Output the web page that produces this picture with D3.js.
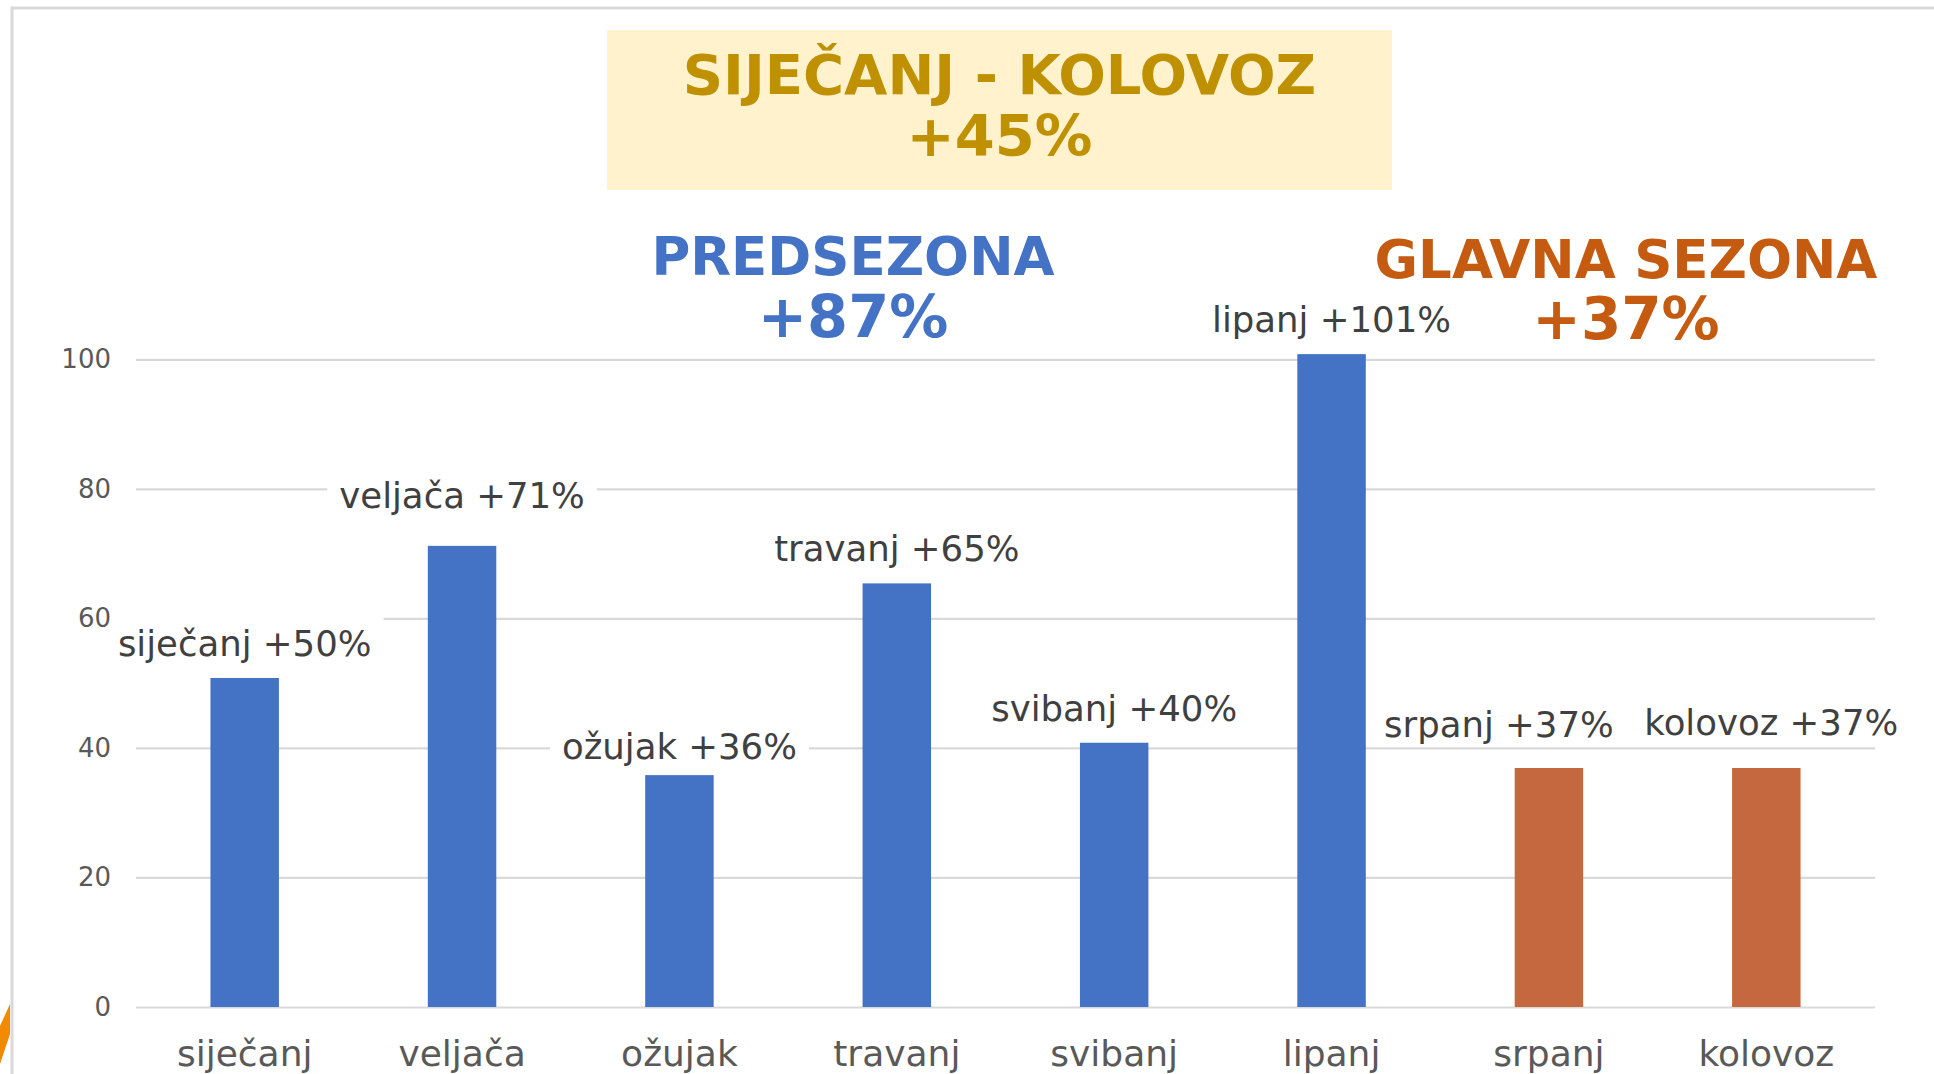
<!DOCTYPE html>
<html>
<head>
<meta charset="utf-8">
<script src="https://cdn.jsdelivr.net/npm/d3@7"></script>
<style>
  html, body { margin: 0; padding: 0; background: #fff; }
  svg { display: block; font-family: "DejaVu Sans", Verdana, sans-serif; }
</style>
</head>
<body>
<div id="chart"></div>
<script>
// Data
const months = ['siječanj', 'veljača', 'ožujak', 'travanj', 'svibanj', 'lipanj', 'srpanj', 'kolovoz'];
const values = [50.8, 71.2, 35.8, 65.4, 40.8, 100.8, 36.9, 36.9];
const growthLabels = ['+50%', '+71%', '+36%', '+65%', '+40%', '+101%', '+37%', '+37%'];
const seasons = ['pre', 'pre', 'pre', 'pre', 'pre', 'pre', 'main', 'main'];
const yTicks = [0, 20, 40, 60, 80, 100];
const titleLines = ['SIJEČANJ - KOLOVOZ', '+45%'];
const preSeasonLines = ['PREDSEZONA', '+87%'];
const mainSeasonLines = ['GLAVNA SEZONA', '+37%'];

// data labels were nudged by hand in the original
const labelLift = [22, 38, 16, 22, 22, 22, 31, 33];
const labelShift = [0, 0, 0, 0, 0, 0, -50, 5];

const width = 1934, height = 1074;
const colors = { pre: '#4472c4', main: '#c56840' };

const svg = d3.select('#chart').append('svg')
    .attr('width', width)
    .attr('height', height);

svg.append('rect').attr('width', width).attr('height', height).attr('fill', '#fff');

// slide frame + bit of decoration at the left edge
svg.append('path')
    .attr('d', `M12,${height} V8 H${width}`)
    .attr('fill', 'none')
    .attr('stroke', '#d9d9d9')
    .attr('stroke-width', 3);
svg.append('path')
    .attr('d', 'M10,1004 L10,1034 L0,1064 L0,1026 Z')
    .attr('fill', '#f28a00');

const x = d3.scaleBand()
    .domain(months)
    .range([136, 1875])
    .paddingInner(0.685)
    .paddingOuter(0.3425);

const y = d3.scaleLinear()
    .domain([0, 100])
    .range([1007, 359.3]);

// gridlines
const grid = svg.append('g')
    .attr('transform', 'translate(136,0)')
    .call(d3.axisLeft(y)
        .tickValues(yTicks)
        .tickSize(-(1875 - 136))
        .tickFormat(''));
grid.select('.domain').remove();
grid.selectAll('line').attr('stroke', '#d9d9d9').attr('stroke-width', 2.2);

// x labels
const xAxis = svg.append('g')
    .attr('transform', `translate(0,${y(0)})`)
    .call(d3.axisBottom(x).tickSize(0).tickPadding(0));
xAxis.select('.domain').remove();
xAxis.selectAll('text')
    .attr('y', 0)
    .attr('dy', 0)
    .attr('transform', 'translate(0,59)')
    .attr('fill', '#595959')
    .style('font-size', '36px')
    .style('font-family', '"DejaVu Sans", Verdana, sans-serif');

// bars
svg.append('g').selectAll('rect')
    .data(months)
    .join('rect')
    .attr('x', d => x(d))
    .attr('y', (d, i) => y(values[i]))
    .attr('width', x.bandwidth())
    .attr('height', (d, i) => y(0) - y(values[i]))
    .attr('fill', (d, i) => colors[seasons[i]]);

// data labels with white boxes (they hide the gridlines behind)
const labels = svg.append('g').selectAll('g')
    .data(months)
    .join('g')
    .attr('transform', (d, i) =>
        `translate(${x(d) + x.bandwidth() / 2 + labelShift[i]},${y(values[i]) - labelLift[i]})`);

labels.append('text')
    .attr('text-anchor', 'middle')
    .attr('fill', '#404040')
    .style('font-size', '35.5px')
    .text((d, i) => `${d} ${growthLabels[i]}`);

labels.each(function () {
    const g = d3.select(this);
    const bb = g.select('text').node().getBBox();
    g.insert('rect', 'text')
        .attr('x', bb.x - 12)
        .attr('y', -40)
        .attr('width', bb.width + 24)
        .attr('height', 49)
        .attr('fill', '#fff');
});

// y tick labels on top of everything
const yAxis = svg.append('g')
    .attr('transform', 'translate(136,0)')
    .call(d3.axisLeft(y)
        .tickValues(yTicks)
        .tickSize(0)
        .tickPadding(25));
yAxis.select('.domain').remove();
yAxis.selectAll('text')
    .attr('fill', '#595959')
    .style('font-size', '26px')
    .style('font-family', '"DejaVu Sans", Verdana, sans-serif');

// headline box
svg.append('rect')
    .attr('x', 607).attr('y', 30)
    .attr('width', 785).attr('height', 160)
    .attr('fill', '#fff2cc');

svg.append('g').selectAll('text')
    .data(titleLines)
    .join('text')
    .attr('x', 999.5)
    .attr('y', (d, i) => [94, 156][i])
    .attr('text-anchor', 'middle')
    .attr('fill', '#bf9000')
    .style('font-weight', 'bold')
    .style('font-size', (d, i) => i === 0 ? '56px' : '57.5px')
    .text(d => d);

// season headers
svg.append('g').selectAll('text')
    .data(preSeasonLines)
    .join('text')
    .attr('x', 853)
    .attr('y', (d, i) => [275, 337][i])
    .attr('text-anchor', 'middle')
    .attr('fill', '#4472c4')
    .style('font-weight', 'bold')
    .style('font-size', (d, i) => i === 0 ? '53px' : '59px')
    .text(d => d);

svg.append('g').selectAll('text')
    .data(mainSeasonLines)
    .join('text')
    .attr('x', 1626)
    .attr('y', (d, i) => [278, 339][i])
    .attr('text-anchor', 'middle')
    .attr('fill', '#c55a11')
    .style('font-weight', 'bold')
    .style('font-size', (d, i) => i === 0 ? '53px' : '58px')
    .text(d => d);
</script>
</body>
</html>
